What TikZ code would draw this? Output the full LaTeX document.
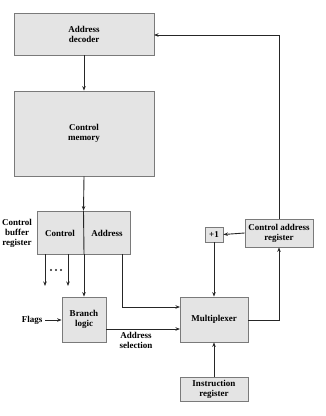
\documentclass[tikz,border=0pt]{standalone}
\usepackage{fontspec}
\setmainfont{Liberation Serif}
\usetikzlibrary{arrows.meta}
\definecolor{boxfill}{HTML}{E4E4E4}
\definecolor{boxline}{HTML}{7A7A7A}
\definecolor{wire}{HTML}{262626}
\tikzset{
  unit/.style={draw=boxline, fill=boxfill, line width=0.8pt, minimum width=#1, inner sep=0pt,
    font=\fontsize{9}{10}\selectfont\bfseries, align=center},
  lbl/.style={font=\fontsize{9}{10}\selectfont\bfseries, align=center, inner sep=0pt},
  wireline/.style={draw=wire, line width=0.9pt},
  flow/.style={wireline, -{Stealth[length=4.5pt,width=3.5pt]}}
}
\begin{document}
\begin{tikzpicture}[x=1pt,y=-1pt]
\useasboundingbox (0,0) rectangle (325,416);
% main units
\node[unit=140pt, minimum height=42pt] (ad) at (84,34) {Address\\decoder};
\node[unit=140pt, minimum height=85pt] (cm) at (84,133.5) {Control\\memory};
\node[unit=93pt, minimum height=43pt] (cbr) at (83.5,232.5) {};
\node[lbl] (cf) at (60,233) {Control};
\node[lbl] (af) at (107,233) {Address};
\node[lbl] (cbrlab) at (17,233) {Control\\buffer\\register};
\node[unit=44pt, minimum height=45pt] (bl) at (84,319.5) {Branch\\logic};
\node[unit=68pt, minimum height=45pt] (mux) at (214,319.5) {Multiplexer};
\node[unit=68pt, minimum height=24pt] (ir) at (214,389) {Instruction\\register};
\node[unit=68pt, minimum height=28pt] (car) at (279,233) {Control address\\register};
\node[unit=18pt, minimum height=15pt] (p1) at (214,234.5) {+1};
\node[lbl, anchor=east] (flags) at (42.5,320) {Flags};
\node[lbl] (asel) at (136,340) {Address\\selection};
% more tap lines than shown
\foreach \k [count=\i] in {51,56,61} \fill[wire] (\k,270) circle[radius=1.1pt] coordinate (dot\i);
% register field divider and output taps
\coordinate (div) at (84,254);
\coordinate (t1a) at (45,254);
\coordinate (t1b) at (45,286);
\coordinate (t2a) at (68,254);
\coordinate (t2b) at (68,286);
\coordinate (t3) at (122,254);
\coordinate (t3c) at (122,307);
\coordinate (m1) at (180,307);
\coordinate (fl) at (45,320);
\coordinate (bo) at (106,329);
\coordinate (m2) at (180,329);
\coordinate (mo) at (248,320);
\coordinate (mc) at (279,320);
\coordinate (up) at (279,35);
\coordinate (ai) at (154,35);
% connectors
\draw[flow] (ad.south) -- (cm.north);
\draw[flow] (cm.south) -- (cbr.north);
\draw[wireline] (cbr.north) -- (div);
\draw[flow] (t1a) -- (t1b);
\draw[flow] (t2a) -- (t2b);
\draw[flow] (div) -- (bl.north);
\draw[flow] (t3) -- (t3c) -- (m1);
\draw[flow] (fl) -- (fl -| bl.west);
\draw[flow] (bo) -- (m2);
\draw[flow] (mo) -- (mc) -- (car.south);
\draw[flow] (car.north) -- (up) -- (ai);
\draw[flow] (car.west) -- (p1.east);
\draw[flow] (p1.south) -- (mux.north);
\draw[flow] (ir.north) -- (mux.south);
\end{tikzpicture}
\end{document}
